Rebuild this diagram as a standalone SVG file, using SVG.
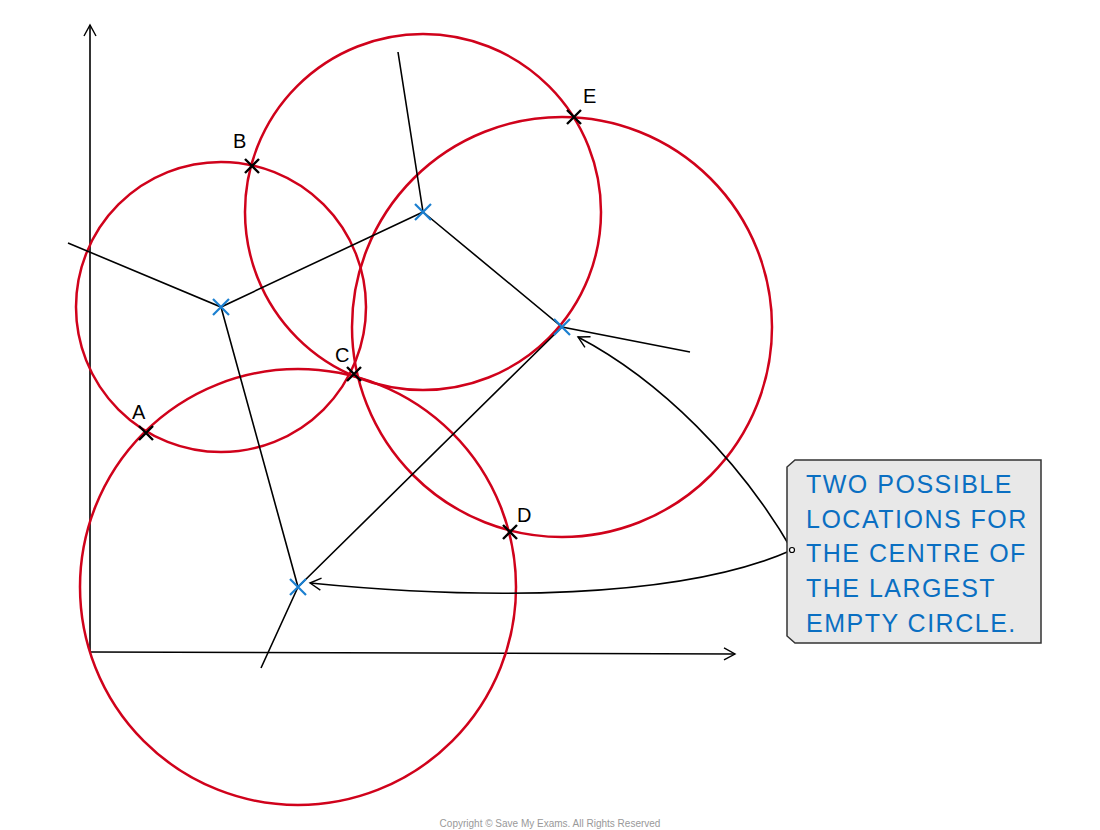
<svg xmlns="http://www.w3.org/2000/svg" width="1100" height="830" viewBox="0 0 1100 830">
<style>
.c{fill:none;stroke:#d0021b;stroke-width:2.5}
.l{fill:none;stroke:#000;stroke-width:1.6}
.bx{stroke:#1a7fd0;stroke-width:2.2}
.kx{stroke:#000;stroke-width:2.4}
.lab{font-family:"Liberation Sans",sans-serif;font-size:20px;fill:#000}
.t{font-family:"Liberation Sans",sans-serif;font-size:25px;fill:#0a6fc2;letter-spacing:1.5px}
</style>
<defs>
<marker id="ah" markerWidth="14" markerHeight="14" refX="12" refY="7" orient="auto" markerUnits="userSpaceOnUse"><path d="M1,1 L12,7 L1,13" fill="none" stroke="#000" stroke-width="1.4"/></marker>
</defs>
<rect width="1100" height="830" fill="#fff"/>
<g id="axes">
<line class="l" x1="90" y1="652" x2="90" y2="25" marker-end="url(#ah)"/>
<line class="l" x1="90" y1="652" x2="735" y2="654" marker-end="url(#ah)"/>
</g>
<g id="circles">
<circle class="c" cx="221" cy="307" r="145"/>
<circle class="c" cx="423" cy="212" r="178"/>
<circle class="c" cx="562" cy="327" r="210"/>
<circle class="c" cx="298" cy="587" r="218"/>
</g>
<g id="connectors">
<path class="l" d="M68,243 L221,307 L423,212 L398,52 M423,212 L562,327 L690,352 M562,327 L298,587 M221,307 L298,587 L261,668"/>
<path class="l" d="M792,550 C740,460 660,380 578,337" marker-end="url(#ah)"/>
<path class="l" d="M792,550 C680,600 480,600 310,583" marker-end="url(#ah)"/>
</g>
<g id="centres">
<path class="bx" d="M213,299 L229,315 M229,299 L213,315"/>
<path class="bx" d="M415,204 L431,220 M431,204 L415,220"/>
<path class="bx" d="M554,319 L570,335 M570,319 L554,335"/>
<path class="bx" d="M290,579 L306,595 M306,579 L290,595"/>
</g>
<g id="points">
<path class="kx" d="M139,426 L153,440 M153,426 L139,440"/><text class="lab" x="132" y="419">A</text>
<path class="kx" d="M245,159 L259,173 M259,159 L245,173"/><text class="lab" x="233" y="148">B</text>
<path class="kx" d="M347,367 L361,381 M361,367 L347,381"/><text class="lab" x="335" y="362">C</text>
<path class="kx" d="M503,525 L517,539 M517,525 L503,539"/><text class="lab" x="517" y="522">D</text>
<path class="kx" d="M567,110 L581,124 M581,110 L567,124"/><text class="lab" x="583" y="103">E</text>
</g>
<g id="callout">
<path d="M795,460 L1041,460 L1041,643 L795,643 L787,636 L787,467 Z" fill="#e8e8e8" stroke="#333" stroke-width="1.5"/>
<circle cx="792" cy="550" r="2.5" fill="#fff" stroke="#000" stroke-width="1.2"/>
<text class="t" x="806" y="493">TWO POSSIBLE</text>
<text class="t" x="806" y="528">LOCATIONS FOR</text>
<text class="t" x="806" y="562">THE CENTRE OF</text>
<text class="t" x="806" y="597">THE LARGEST</text>
<text class="t" x="806" y="632">EMPTY CIRCLE.</text>
</g>
<text x="550" y="827" text-anchor="middle" font-family="Liberation Sans,sans-serif" font-size="10" fill="#999">Copyright © Save My Exams. All Rights Reserved</text>
</svg>
